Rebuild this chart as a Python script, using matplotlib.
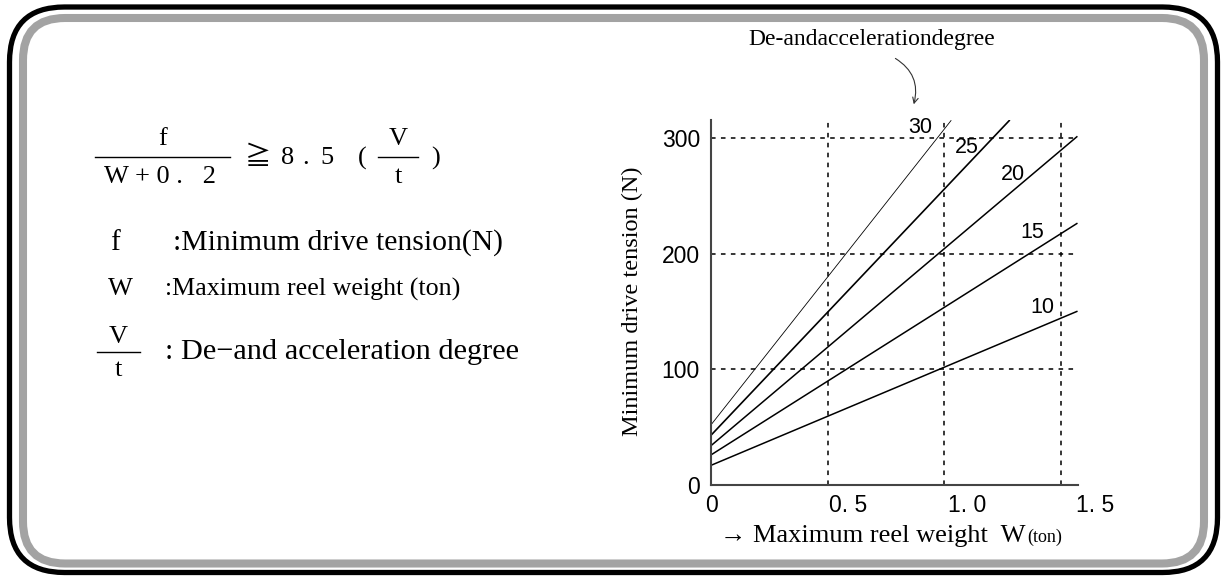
import matplotlib.pyplot as plt
from matplotlib.patches import FancyBboxPatch

# acceleration values (V/t) and the end points of each line
accel = [10, 15, 20, 25, 30]
w_begin = [0, 0, 0, 0, 0]
f_begin = [17, 26, 34, 43, 52]
w_finish = [1.57, 1.57, 1.57, 1.28, 1.03]
f_finish = [150, 226, 301, 315, 315]
line_w = [1.1, 1.1, 1.1, 1.2, 0.6]

# where each line's number sits
lab_w = [1.42, 1.378, 1.296, 1.099, 0.897]
lab_f = [153, 218, 268, 292, 309]

x_ticks = [0, 0.5, 1.0, 1.5]
x_ticklabels = ['0', '0. 5', '1. 0', '1. 5']
x_label_pos = [0, 0.588, 1.099, 1.648]
y_ticks = [0, 100, 200, 300]

serif = ['Liberation Serif', 'DejaVu Serif', 'Noto Sans CJK JP']
sans = ['Liberation Sans', 'DejaVu Sans']

fig = plt.figure(figsize=(12.21, 5.76), dpi=100)

# background layer in pixel units for the frame and the formula text
bg = fig.add_axes([0, 0, 1, 1])
bg.set_xlim(0, 1221)
bg.set_ylim(576, 0)
bg.axis('off')

bg.add_patch(FancyBboxPatch((9.5, 7), 1208, 565.5, boxstyle='round,pad=0,rounding_size=55',
                            fill=False, ec='black', lw=3.8))
bg.add_patch(FancyBboxPatch((23, 18), 1181, 545.5, boxstyle='round,pad=0,rounding_size=42',
                            fill=False, ec='#a3a3a3', lw=5.8))

# formula f/(W+0.2) >= 8.5 (V/t), one glyph at a time to keep the wide spacing
fs = 19
bg.text(163, 139, 'f', family=serif, fontsize=fs, ha='center', va='center')
bg.plot([95, 230], [157, 157], color='black', lw=1.0)
bg.text(160, 177, 'W + 0 .   2', family=serif, fontsize=fs, ha='center', va='center')
for ch, px in [('≧', 258), ('8', 288), ('.', 306), ('5', 327), ('(', 362), (')', 436)]:
    bg.text(px, 158, ch, family=serif, fontsize=fs, ha='center', va='center')
bg.text(398, 139, 'V', family=serif, fontsize=fs, ha='center', va='center')
bg.plot([378, 418], [157, 157], color='black', lw=1.0)
bg.text(398, 177, 't', family=serif, fontsize=fs, ha='center', va='center')

bg.text(115, 243, 'f', family=serif, fontsize=21, ha='center', va='center')
bg.text(173, 243, ':Minimum drive tension(N)', family=serif, fontsize=21.3, ha='left', va='center')
bg.text(120, 289, 'W', family=serif, fontsize=19, ha='center', va='center')
bg.text(165, 289, ':Maximum reel weight (ton)', family=serif, fontsize=18.7, ha='left', va='center')
bg.text(118, 337, 'V', family=serif, fontsize=19, ha='center', va='center')
bg.plot([97, 140], [352, 352], color='black', lw=1.0)
bg.text(118, 370, 't', family=serif, fontsize=19, ha='center', va='center')
bg.text(165, 352, ': De−and acceleration degree', family=serif, fontsize=21.8, ha='left', va='center')

# the chart itself
ax = fig.add_axes([711 / 1221, 1 - 485 / 576, 367 / 1221, 365 / 576])
ax.set_xlim(0, 1.575)
ax.set_ylim(0, 315.5)

for i in range(len(accel)):
    ax.plot([w_begin[i], w_finish[i]], [f_begin[i], f_finish[i]], color='black', lw=line_w[i])
    ax.text(lab_w[i], lab_f[i], str(accel[i]), family=sans, fontsize=15.5, ha='center', va='center')

ax.set_xticks(x_ticks)
ax.set_xticklabels([])
ax.set_yticks(y_ticks)
ax.set_yticklabels([str(v) for v in y_ticks], family=sans, fontsize=16.5)
ax.tick_params(length=0, pad=8)
for i in range(len(x_ticks)):
    ax.text(x_label_pos[i], -18, x_ticklabels[i], family=sans, fontsize=16.5, ha='center', va='center')

ax.grid(True, color='black', lw=1.1, ls=(0, (3, 3.5)))
for s in ['top', 'right']:
    ax.spines[s].set_visible(False)
for s in ['left', 'bottom']:
    ax.spines[s].set_color('#444444')
    ax.spines[s].set_linewidth(1.5)
ax.set_facecolor('none')

# axis titles
bg.text(632, 301, 'Minimum drive tension (N)', family=serif, fontsize=17.5, rotation=90,
        ha='center', va='center')
bg.text(1025, 536, '→ Maximum reel weight  W', family=serif, fontsize=19, ha='right', va='center')
bg.text(1027, 537, '(ton)', family=serif, fontsize=13, ha='left', va='center')

# callout above the lines
bg.text(748, 40, 'De-andaccelerationdegree', family=serif, fontsize=17, ha='left', va='center')
bg.annotate('', xy=(913, 107), xytext=(893, 57),
            arrowprops=dict(arrowstyle='->', lw=0.8, color='#333333',
                            connectionstyle='arc3,rad=-0.4'))

fig.savefig('out.png', dpi=100)
